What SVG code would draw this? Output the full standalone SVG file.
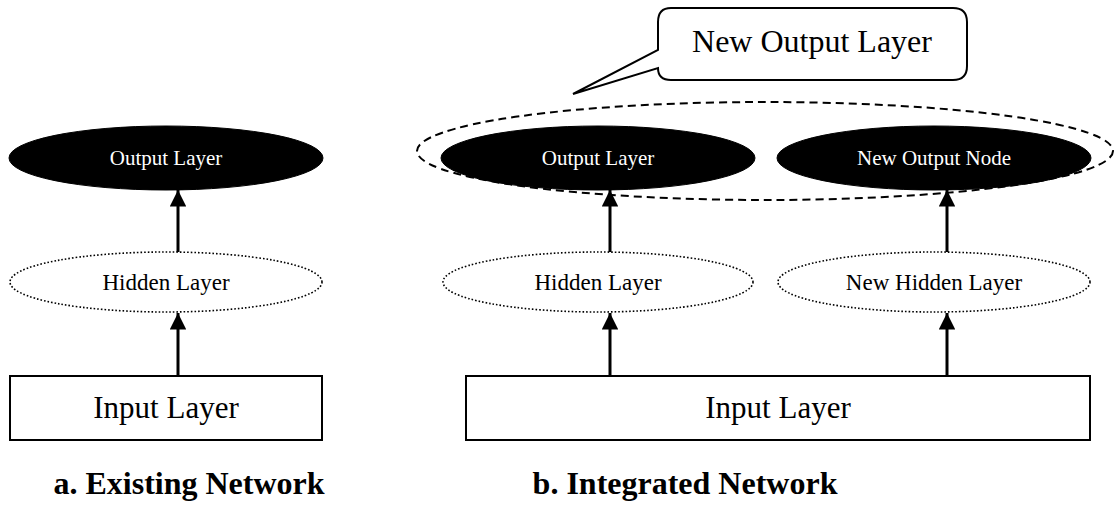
<svg xmlns="http://www.w3.org/2000/svg" width="1115" height="511" viewBox="0 0 1115 511">
  <style>
    .out { fill: #000; stroke: #000; stroke-width: 1; }
    .hid { fill: #fff; stroke: #000; stroke-width: 1.6; stroke-dasharray: 1.6 2; }
    .box { fill: #fff; stroke: #000; stroke-width: 2; }
    .t { font-family: "Liberation Serif", "Times New Roman", serif; text-anchor: middle; }
    .t-out { font-size: 21px; fill: #fff; }
    .t-hid { font-size: 23px; fill: #000; }
    .t-in { font-size: 31px; fill: #000; }
    .cap { font-family: "Liberation Serif", "Times New Roman", serif; font-size: 32px; font-weight: bold; text-anchor: middle; fill: #000; }
    .edge { stroke: #000; stroke-width: 3; fill: none; marker-end: url(#head); }
  </style>
  <defs>
    <marker id="head" viewBox="0 0 10 10" refX="10" refY="5" markerWidth="5.5" markerHeight="5.5" markerUnits="strokeWidth" orient="auto">
      <path d="M0,0 L10,5 L0,10 Z" fill="#000"/>
    </marker>
  </defs>

  <!-- a. existing network -->
  <g id="a-output">
    <ellipse class="out" cx="166" cy="158" rx="157" ry="32"/>
    <text class="t t-out" x="166" y="165">Output Layer</text>
  </g>
  <g id="a-hidden">
    <ellipse class="hid" cx="166" cy="282" rx="156" ry="30"/>
    <text class="t t-hid" x="166" y="290">Hidden Layer</text>
  </g>
  <g id="a-input">
    <rect class="box" x="10" y="376" width="312" height="64"/>
    <text class="t t-in" x="166" y="418">Input Layer</text>
  </g>

  <!-- b. integrated network -->
  <g id="b-output-group">
    <ellipse cx="765" cy="151" rx="348" ry="49" fill="none" stroke="#000" stroke-width="2" stroke-dasharray="8 5"/>
  </g>
  <g id="b-output">
    <ellipse class="out" cx="598" cy="158" rx="157" ry="32"/>
    <text class="t t-out" x="598" y="165">Output Layer</text>
  </g>
  <g id="b-new-output">
    <ellipse class="out" cx="934" cy="158" rx="157" ry="32"/>
    <text class="t t-out" x="934" y="165">New Output Node</text>
  </g>
  <g id="b-hidden">
    <ellipse class="hid" cx="598" cy="282" rx="155" ry="30"/>
    <text class="t t-hid" x="598" y="290">Hidden Layer</text>
  </g>
  <g id="b-new-hidden">
    <ellipse class="hid" cx="934" cy="282" rx="156" ry="30"/>
    <text class="t t-hid" x="934" y="290">New Hidden Layer</text>
  </g>
  <g id="b-input">
    <rect class="box" x="466" y="376" width="624" height="64"/>
    <text class="t t-in" x="778" y="418">Input Layer</text>
  </g>

  <!-- callout naming the combined output layer -->
  <g id="callout">
    <path d="M671,8 H953 Q967,8 967,22 V66 Q967,80 953,80 H671 Q658,80 658,68 L573,94 L658,50 V22 Q658,8 671,8 Z" fill="#fff" stroke="#000" stroke-width="2"/>
    <text class="t" x="812" y="52" font-size="32">New Output Layer</text>
  </g>

  <!-- connectors -->
  <g id="connectors">
    <line class="edge" x1="178" y1="376" x2="178" y2="313"/>
    <line class="edge" x1="178" y1="252" x2="178" y2="190"/>
    <line class="edge" x1="610" y1="376" x2="610" y2="313"/>
    <line class="edge" x1="610" y1="252" x2="610" y2="190"/>
    <line class="edge" x1="947" y1="376" x2="947" y2="313"/>
    <line class="edge" x1="947" y1="252" x2="947" y2="190"/>
  </g>

  <!-- captions -->
  <text class="cap" x="189" y="494">a. Existing Network</text>
  <text class="cap" x="685" y="494">b. Integrated Network</text>
</svg>
